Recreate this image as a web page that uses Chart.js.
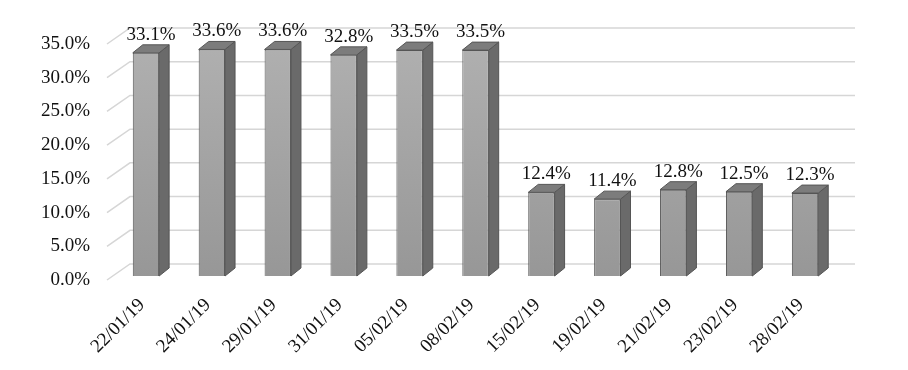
<!DOCTYPE html>
<html>
<head>
<meta charset="utf-8">
<script src="https://cdn.jsdelivr.net/npm/chart.js@4.4.1/dist/chart.umd.min.js"></script>
<style>
    body { margin: 0; background: #fff; }
    #wrap { width: 908px; height: 370px; }
</style>
</head>
<body>
<div id="wrap"><canvas id="chart" width="908" height="370"></canvas></div>
<script>
// Дані
const dates = ['22/01/19', '24/01/19', '29/01/19', '31/01/19', '05/02/19', '08/02/19',
    '15/02/19', '19/02/19', '21/02/19', '23/02/19', '28/02/19'];
const shares = [33.1, 33.6, 33.6, 32.8, 33.5, 33.5, 12.4, 11.4, 12.8, 12.5, 12.3];
const yTicks = [0, 5, 10, 15, 20, 25, 30, 35];

const FONT = { family: '"Liberation Serif", "Times New Roman", serif', size: 19 };
// глибина "3D" стовпчика та задньої стінки
const BAR_DX = 10, BAR_DY = -8;
const WALL_FRONT = { dx: -6, dy: 4 };
const WALL_BACK = { dx: 17, dy: -12 };

// Сітка на задній стінці + діагоналі до лівої осі
const wallGrid = {
    id: 'wallGrid',
    beforeDatasetsDraw(chart) {
        const { ctx, chartArea, scales } = chart;
        ctx.save();
        ctx.strokeStyle = '#d6d6d6';
        ctx.lineWidth = 1.5;
        yTicks.forEach(v => {
            const y = scales.y.getPixelForValue(v);
            ctx.beginPath();
            ctx.moveTo(chartArea.left + WALL_FRONT.dx, y + WALL_FRONT.dy);
            ctx.lineTo(chartArea.left + WALL_BACK.dx, y + WALL_BACK.dy);
            ctx.lineTo(chartArea.right + WALL_BACK.dx, y + WALL_BACK.dy);
            ctx.stroke();
        });
        ctx.restore();
    }
};

// Бокова та верхня грані стовпчиків, підписи значень
const bars3d = {
    id: 'bars3d',
    afterDatasetsDraw(chart) {
        const { ctx } = chart;
        const meta = chart.getDatasetMeta(0);
        ctx.save();
        ctx.strokeStyle = '#555555';
        ctx.lineWidth = 1;
        meta.data.forEach((bar, i) => {
            const { x, y, base, width } = bar.getProps(['x', 'y', 'base', 'width'], true);
            const l = x - width / 2, r = x + width / 2;
            // бокова грань
            ctx.fillStyle = '#6a6a6a';
            ctx.beginPath();
            ctx.moveTo(r, y);
            ctx.lineTo(r + BAR_DX, y + BAR_DY);
            ctx.lineTo(r + BAR_DX, base + BAR_DY);
            ctx.lineTo(r, base);
            ctx.closePath();
            ctx.fill();
            ctx.stroke();
            // верхня грань
            ctx.fillStyle = '#7c7c7c';
            ctx.beginPath();
            ctx.moveTo(l, y);
            ctx.lineTo(l + BAR_DX, y + BAR_DY);
            ctx.lineTo(r + BAR_DX, y + BAR_DY);
            ctx.lineTo(r, y);
            ctx.closePath();
            ctx.fill();
            ctx.stroke();
            // підпис
            ctx.fillStyle = '#111';
            ctx.font = FONT.size + 'px ' + FONT.family;
            ctx.textAlign = 'center';
            ctx.textBaseline = 'alphabetic';
            ctx.fillText(shares[i].toFixed(1) + '%', x + BAR_DX / 2, y + BAR_DY - 5);
        });
        ctx.restore();
    }
};

const ctx = document.getElementById('chart').getContext('2d');
new Chart(ctx, {
    type: 'bar',
    data: {
        labels: dates,
        datasets: [{
            data: shares,
            backgroundColor(c) {
                const area = c.chart.chartArea;
                if (!area) return '#a5a5a5';
                const g = c.chart.ctx.createLinearGradient(0, area.top, 0, area.bottom);
                g.addColorStop(0, '#b0b0b0');
                g.addColorStop(1, '#979797');
                return g;
            },
            borderColor: '#555555',
            borderWidth: 1,
            barPercentage: 0.4,
            categoryPercentage: 1
        }]
    },
    options: {
        responsive: false,
        animation: false,
        layout: { padding: { top: 40, right: 70, left: 0, bottom: 0 } },
        plugins: {
            legend: { display: false },
            tooltip: { enabled: false }
        },
        scales: {
            x: {
                grid: { display: false },
                border: { display: false },
                ticks: {
                    font: FONT,
                    color: '#111',
                    maxRotation: 45,
                    minRotation: 45,
                    padding: 10,
                    labelOffset: -4
                },
                afterFit(scale) { scale.height = 94; }
            },
            y: {
                min: 0,
                max: 35,
                grid: { display: false },
                border: { display: false },
                afterBuildTicks(scale) { scale.ticks = yTicks.map(v => ({ value: v })); },
                ticks: {
                    font: FONT,
                    color: '#111',
                    padding: 15,
                    labelOffset: 4,
                    callback: v => v.toFixed(1) + '%'
                },
                afterFit(scale) { scale.width = 113; }
            }
        }
    },
    plugins: [wallGrid, bars3d]
});
</script>
</body>
</html>
